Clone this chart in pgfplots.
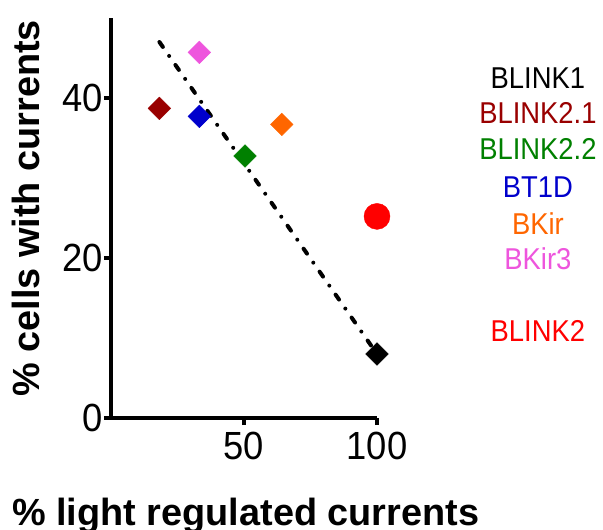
\documentclass[border=0pt]{standalone}
\usepackage{fontspec}
\setmainfont{Liberation Sans}
\usepackage{pgfplots}
\pgfplotsset{compat=1.18}
\definecolor{cBLa}{RGB}{0,0,0}
\definecolor{cBLb}{RGB}{153,0,0}
\definecolor{cBLc}{RGB}{0,128,0}
\definecolor{cBT}{RGB}{0,0,204}
\definecolor{cBK}{RGB}{255,102,0}
\definecolor{cBKc}{RGB}{238,85,221}
\definecolor{cBLd}{RGB}{255,0,0}
\begin{document}
\begin{tikzpicture}
\begin{axis}[
  width=266bp, height=400bp, scale only axis,
  xmin=0, xmax=100, ymin=0, ymax=50,
  axis lines=left,
  axis line style={line width=4.5bp, -},
  xtick={50,100}, ytick={0,20,40},
  tick style={line width=4bp, black},
  tick align=outside, major tick length=7bp,
  tick label style={font=\fontsize{36.5}{40}\selectfont, yscale=1.08},
  xticklabel style={yshift=-3bp},
  yticklabel style={xshift=2bp},
  /pgf/number format/assume math mode=true,
  xlabel={\% light regulated currents},
  ylabel={\% cells with currents},
  label style={font=\fontsize{38}{40}\selectfont\bfseries, inner sep=0pt},
  xlabel style={at={(axis description cs:-0.372,-0.2675)}, anchor=base west},
  ylabel style={at={(axis description cs:-0.372,0.524)}, anchor=north, rotate=0},
  clip=false,
]
\addplot[black, line width=4bp, line cap=round, dash pattern=on 6bp off 11bp on 0bp off 11bp] coordinates {(18.2,47.0) (100,8)};
\addplot[only marks, mark=square*, mark size=8bp, mark options={rotate=45, draw=cBLb, fill=cBLb}] coordinates {(18.2,38.7)};
\addplot[only marks, mark=square*, mark size=8bp, mark options={rotate=45, draw=cBT, fill=cBT}] coordinates {(33.2,37.7)};
\addplot[only marks, mark=square*, mark size=8bp, mark options={rotate=45, draw=cBKc, fill=cBKc}] coordinates {(33.2,45.7)};
\addplot[only marks, mark=square*, mark size=8bp, mark options={rotate=45, draw=cBK, fill=cBK}] coordinates {(64.2,36.7)};
\addplot[only marks, mark=square*, mark size=8bp, mark options={rotate=45, draw=cBLc, fill=cBLc}] coordinates {(50.4,32.75)};
\addplot[only marks, mark=square*, mark size=8bp, mark options={rotate=45, draw=cBLa, fill=cBLa}] coordinates {(100,8)};
\addplot[only marks, mark=*, mark size=13bp, mark options={draw=cBLd, fill=cBLd}] coordinates {(100,25.2)};
\begin{scope}[every node/.style={font=\fontsize{27.5}{30}\selectfont, inner sep=0pt, anchor=center, yscale=1.1}]
\node[text=cBLa] at (axis cs:160.5,42.5) {BLINK1};
\node[text=cBLb] at (axis cs:160.5,38.1) {BLINK2.1};
\node[text=cBLc] at (axis cs:160.5,33.6) {BLINK2.2};
\node[text=cBT] at (axis cs:160.5,28.8) {BT1D};
\node[text=cBK] at (axis cs:160.5,24.25) {BKir};
\node[text=cBKc] at (axis cs:160.5,19.9) {BKir3};
\node[text=cBLd] at (axis cs:160.5,10.9) {BLINK2};
\end{scope}
\end{axis}
\pgfresetboundingbox
\path[use as bounding box] (-111bp,-112bp) rectangle (492bp,418bp);
\end{tikzpicture}
\end{document}
